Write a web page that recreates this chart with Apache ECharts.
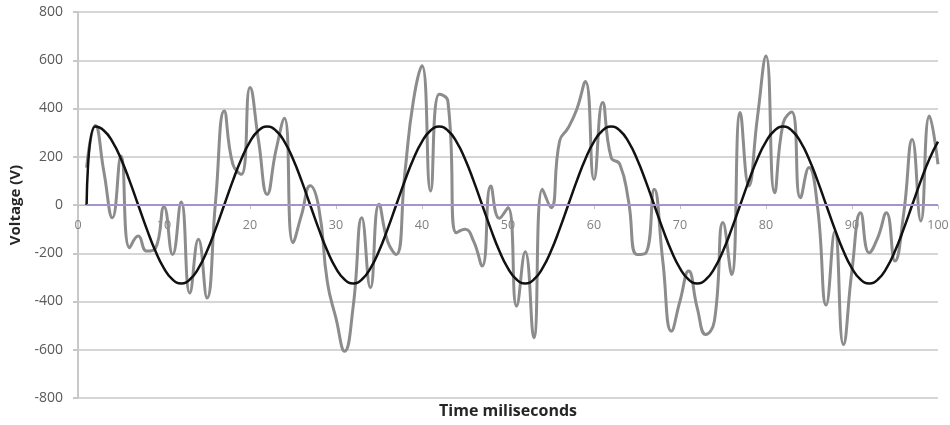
<!DOCTYPE html>
<html>
<head>
<meta charset="utf-8">
<script src="https://cdn.jsdelivr.net/npm/echarts@6/dist/echarts.min.js"></script>
<style>
	html, body { margin: 0; padding: 0; background: #fff; }
	#voltageChart { width: 950px; height: 425px; }
</style>
</head>
<body>
<div id="voltageChart"></div>
<script>
"use strict";

// time in milliseconds (one sample per ms)
var timeMs = [1, 2, 3, 4, 5, 6, 7, 8, 9, 10, 11, 12, 13, 14, 15, 16, 17, 18, 19, 20,
	21, 22, 23, 24, 25, 26, 27, 28, 29, 30, 31, 32, 33, 34, 35, 36, 37, 38, 39, 40,
	41, 42, 43, 44, 45, 46, 47, 48, 49, 50, 51, 52, 53, 54, 55, 56, 57, 58, 59, 60,
	61, 62, 63, 64, 65, 66, 67, 68, 69, 70, 71, 72, 73, 74, 75, 76, 77, 78, 79, 80,
	81, 82, 83, 84, 85, 86, 87, 88, 89, 90, 91, 92, 93, 94, 95, 96, 97, 98, 99, 100];

// distorted voltage (grey)
var noisyVoltage = [155, 330, 140, -53, 203, -177, -129, -191, -180, -7,
	-205, 12, -365, -142, -385, 17, 390, 169, 127, 487,
	265, 44, 224, 360, -156, -40, 80, -11, -320, -470,
	-606, -420, -53, -343, 3, -150, -205, 130, 432, 577,
	58, 459, 432, -115, -101, -150, -253, 79, -55, -11,
	-419, -194, -550, 65, -11, 265, 320, 397, 512, 106,
	425, 196, 169, 20, -205, -200, 65, -232, -523, -398,
	-274, -426, -537, -481, -73, -288, 383, 79, 362, 618,
	51, 340, 385, 30, 155, -10, -415, -110, -578, -270,
	-32, -198, -135, -32, -232, -39, 272, -66, 369, 169];

// clean supply voltage (black)
var cleanVoltage = [0, 325, 309, 263, 191, 100, 0, -100, -191, -263,
	-309, -325, -309, -263, -191, -100, 0, 100, 191, 263,
	309, 325, 309, 263, 191, 100, 0, -100, -191, -263,
	-309, -325, -309, -263, -191, -100, 0, 100, 191, 263,
	309, 325, 309, 263, 191, 100, 0, -100, -191, -263,
	-309, -325, -309, -263, -191, -100, 0, 100, 191, 263,
	309, 325, 309, 263, 191, 100, 0, -100, -191, -263,
	-309, -325, -309, -263, -191, -100, 0, 100, 191, 263,
	309, 325, 309, 263, 191, 100, 0, -100, -191, -263,
	-309, -325, -309, -263, -191, -100, 0, 100, 191, 263];

// zero reference (purple)
var zeroTimes = [1, 100];
var zeroVoltage = [0, 0];

var xTicks = [0, 10, 20, 30, 40, 50, 60, 70, 80, 90, 100];
var yTicks = [-800, -600, -400, -200, 0, 200, 400, 600, 800];

function pairs(xs, ys) {
	return xs.map(function(x, i) { return [x, ys[i]]; });
}

var fontName = '"Open Sans", "DejaVu Sans", sans-serif';
var plotLeft = 78, plotRight = 12, plotTop = 12, plotBottom = 27;
var chartWidth = 950, chartHeight = 425;
// x axis sits on the 0 V line, half way up the plot
var xAxisLift = (chartHeight - plotTop - plotBottom) / 2;

function voltageChart() {
	var chart = echarts.init(document.getElementById('voltageChart'), null, { renderer: 'canvas' });

	chart.setOption({
		animation : false,
		grid : {
			left : plotLeft,
			right : plotRight,
			top : plotTop,
			bottom : plotBottom,
			containLabel : false,
			outerBoundsMode : 'none'
		},
		xAxis : {
			type : 'value',
			position : 'bottom',
			offset : -xAxisLift,
			min : xTicks[0],
			max : xTicks[xTicks.length - 1],
			interval : 10,
			axisLine : {
				onZero : false,
				lineStyle : { color : '#bfbfbf', width : 1 }
			},
			axisTick : {
				show : true,
				length : 4,
				lineStyle : { color : '#bfbfbf' }
			},
			axisLabel : {
				margin : 14,
				fontFamily : fontName,
				fontSize : 12.5,
				color : '#808080'
			},
			splitLine : { show : false }
		},
		yAxis : {
			type : 'value',
			min : yTicks[0],
			max : yTicks[yTicks.length - 1],
			interval : 200,
			name : 'Voltage (V)',
			nameLocation : 'middle',
			nameGap : 54,
			nameRotate : 90,
			nameTextStyle : {
				fontFamily : fontName,
				fontWeight : 'bold',
				fontSize : 15,
				color : '#262626'
			},
			axisLine : {
				show : true,
				onZero : false,
				lineStyle : { color : '#c8c8c8', width : 2 }
			},
			axisTick : {
				show : true,
				length : 5,
				lineStyle : { color : '#c8c8c8', width : 2 }
			},
			axisLabel : {
				margin : 15,
				fontFamily : fontName,
				fontSize : 14,
				color : '#595959'
			},
			splitLine : {
				lineStyle : { color : '#d6d6d6', width : 2 }
			}
		},
		// x title centred under the plot area, not the whole canvas
		graphic : [ {
			type : 'text',
			x : plotLeft + (chartWidth - plotLeft - plotRight) / 2,
			y : 403,
			style : {
				text : 'Time miliseconds',
				font : 'bold 16px "Open Sans", sans-serif',
				fill : '#262626',
				align : 'center',
				verticalAlign : 'top'
			}
		} ],
		series : [ {
			name : 'Distorted',
			type : 'line',
			data : pairs(timeMs, noisyVoltage),
			smooth : 0.5,
			symbol : 'none',
			lineStyle : { color : '#8c8c8c', width : 3 },
			z : 2
		}, {
			name : 'Supply',
			type : 'line',
			data : pairs(timeMs, cleanVoltage),
			smooth : 0.5,
			symbol : 'none',
			lineStyle : { color : '#111111', width : 2.5 },
			z : 3
		}, {
			name : 'Zero',
			type : 'line',
			data : pairs(zeroTimes, zeroVoltage),
			symbol : 'none',
			lineStyle : { color : '#a494cc', width : 2 },
			z : 4
		} ]
	});
}

voltageChart();
</script>
</body>
</html>
